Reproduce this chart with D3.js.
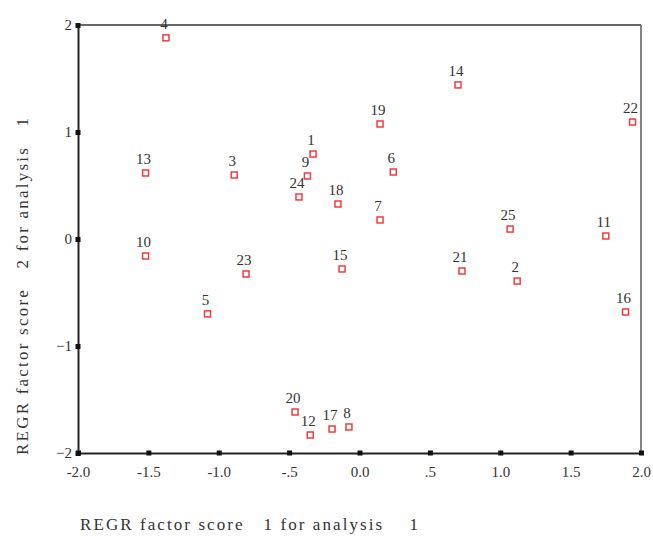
<!DOCTYPE html>
<html>
<head>
<meta charset="utf-8">
<script src="https://cdn.jsdelivr.net/npm/d3@7"></script>
<style>
  body { margin: 0; background: #fff; }
  text { font-family: "Liberation Serif", "DejaVu Serif", serif; fill: #333; }
</style>
</head>
<body>
<div id="chart"></div>
<script>
// Data: case ids and factor scores
const ids = [1, 2, 3, 4, 5, 6, 7, 8, 9, 10, 11, 12, 13, 14, 15, 16, 17, 18, 19, 20, 21, 22, 23, 24, 25];
const score1 = [-0.33, 1.12, -0.89, -1.375, -1.08, 0.24, 0.146, -0.075, -0.37, -1.52, 1.75, -0.35, -1.52, 0.70, -0.124, 1.89, -0.195, -0.153, 0.146, -0.458, 0.728, 1.94, -0.806, -0.43, 1.07];
const score2 = [0.794, -0.393, 0.598, 1.88, -0.70, 0.626, 0.178, -1.757, 0.589, -0.159, 0.028, -1.832, 0.617, 1.44, -0.28, -0.682, -1.776, 0.327, 1.075, -1.617, -0.299, 1.093, -0.327, 0.393, 0.093];
const xTicks = [-2.0, -1.5, -1.0, -0.5, 0.0, 0.5, 1.0, 1.5, 2.0];
const xTickLabels = ['-2.0', '-1.5', '-1.0', '-.5', '0.0', '.5', '1.0', '1.5', '2.0'];
const yTicks = [-2, -1, 0, 1, 2];

const points = ids.map((id, i) => ({ id, x: score1[i], y: score2[i] }));

// Layout
const margin = { top: 25, right: 12, bottom: 83, left: 78 };
const W = 653, H = 536;
const width = W - margin.left - margin.right;
const height = H - margin.top - margin.bottom;

const svg = d3.select('#chart')
  .append('svg')
  .attr('width', W)
  .attr('height', H);

const g = svg.append('g')
  .attr('transform', `translate(${margin.left},${margin.top})`);

const x = d3.scaleLinear().domain([-2, 2]).range([0, width]);
const y = d3.scaleLinear().domain([-2, 2]).range([height, 0]);

// Frame: top/right grey, left/bottom black
g.append('line').attr('x1', 0).attr('x2', width).attr('y1', 0).attr('y2', 0)
  .attr('stroke', '#666').attr('stroke-width', 1.8);
g.append('line').attr('x1', width).attr('x2', width).attr('y1', 0).attr('y2', height)
  .attr('stroke', '#777').attr('stroke-width', 1.8);

// Axes
const xAxis = g.append('g')
  .attr('transform', `translate(0,${height})`)
  .call(d3.axisBottom(x).tickValues(xTicks).tickFormat((d, i) => xTickLabels[i]).tickSize(0).tickPadding(13));
const yAxis = g.append('g')
  .call(d3.axisLeft(y).tickValues(yTicks).tickFormat(d3.format('d')).tickSize(0).tickPadding(6));

[xAxis, yAxis].forEach(a => {
  a.select('.domain').attr('stroke', '#222').attr('stroke-width', 2);
  a.selectAll('text').attr('font-size', 15).attr('fill', '#555')
    .style('font-family', '"Liberation Serif", serif');
});

// small square tick markers on the axes
xAxis.selectAll('.tick').append('rect')
  .attr('x', -2.5).attr('y', -2.5).attr('width', 5).attr('height', 5).attr('fill', '#111');
yAxis.selectAll('.tick').append('rect')
  .attr('x', -2.5).attr('y', -2.5).attr('width', 5).attr('height', 5).attr('fill', '#111');

// Points
g.selectAll('.pt')
  .data(points)
  .enter()
  .append('rect')
  .attr('class', 'pt')
  .attr('x', d => x(d.x) - 3)
  .attr('y', d => y(d.y) - 3)
  .attr('width', 6)
  .attr('height', 6)
  .attr('fill', 'none')
  .attr('stroke', '#f03c3c')
  .attr('stroke-width', 1.5);

// Case labels
g.selectAll('.lbl')
  .data(points)
  .enter()
  .append('text')
  .attr('class', 'lbl')
  .attr('x', d => x(d.x) - 2)
  .attr('y', d => y(d.y) - 9)
  .attr('text-anchor', 'middle')
  .attr('font-size', 15)
  .text(d => d.id);

// Axis titles
svg.append('text')
  .attr('x', 80)
  .attr('y', 530)
  .attr('font-size', 17)
  .attr('fill', '#555')
  .attr('textLength', 338)
  .attr('lengthAdjust', 'spacing')
  .style('white-space', 'pre')
  .text('REGR factor score   1 for analysis    1');

svg.append('text')
  .attr('transform', 'rotate(-90)')
  .attr('x', -455)
  .attr('y', 28)
  .attr('font-size', 17)
  .attr('fill', '#555')
  .attr('textLength', 337)
  .attr('lengthAdjust', 'spacing')
  .style('white-space', 'pre')
  .text('REGR factor score   2 for analysis   1');
</script>
</body>
</html>
